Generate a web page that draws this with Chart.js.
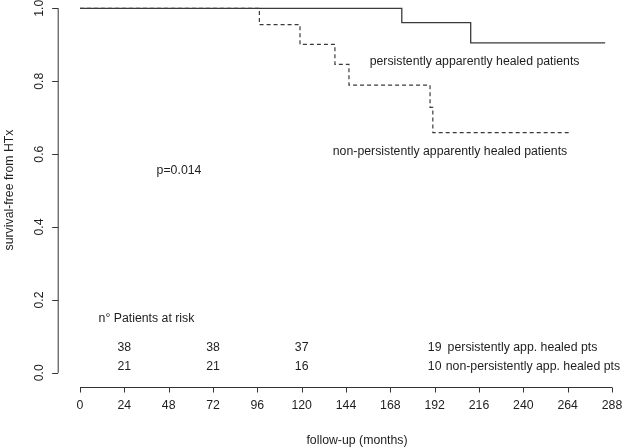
<!DOCTYPE html>
<html>
<head>
<meta charset="utf-8">
<script src="https://cdn.jsdelivr.net/npm/chart.js@4"></script>
<style>
  body { margin: 0; background: #fff; }
</style>
</head>
<body>
<canvas id="kmChart" width="622" height="448"></canvas>
<script>
// Kaplan-Meier curves
const persistentTimes = [0, 174.2, 211.5, 284.3];
const persistentSurv = [1, 0.9605, 0.905, 0.905];
const nonPersistentTimes = [0, 97.1, 119.1, 138, 145.6, 189.5, 191, 265.7];
const nonPersistentSurv = [1, 0.955, 0.901, 0.846, 0.789, 0.728, 0.659, 0.659];

// patients at risk
const atRiskTimes = [24, 72, 120, 192];
const atRiskPersistent = [38, 38, 37, 19];
const atRiskNonPersistent = [21, 21, 16, 10];

const xTicks = [0, 24, 48, 72, 96, 120, 144, 168, 192, 216, 240, 264, 288];
const yTicks = [0, 0.2, 0.4, 0.6, 0.8, 1];

const FONT = '12.3px "Liberation Sans", Arial, sans-serif';
const INK = '#1e1e1e';

function toPoints(xs, ys) {
  return xs.map((x, i) => ({ x: x, y: ys[i] }));
}

const rAxes = {
  id: 'rAxes',
  afterDraw(chart) {
    const ctx = chart.ctx;
    const xs = chart.scales.x, ys = chart.scales.y;
    const left = chart.chartArea.left - 0.5;
    const bottom = chart.chartArea.bottom;
    ctx.save();
    ctx.strokeStyle = '#333';
    ctx.lineWidth = 1;
    ctx.fillStyle = INK;
    ctx.font = FONT;

    // y axis
    ctx.beginPath();
    ctx.moveTo(left, ys.getPixelForValue(yTicks[0]));
    ctx.lineTo(left, ys.getPixelForValue(yTicks[yTicks.length - 1]));
    yTicks.forEach(t => {
      const py = Math.round(ys.getPixelForValue(t)) + 0.5;
      ctx.moveTo(left, py);
      ctx.lineTo(left - 6, py);
    });
    ctx.stroke();
    yTicks.forEach(t => {
      const py = ys.getPixelForValue(t);
      ctx.save();
      ctx.translate(40, py);
      ctx.rotate(-Math.PI / 2);
      ctx.textAlign = 'center';
      ctx.textBaseline = 'middle';
      ctx.fillText(t.toFixed(1), 0, 0);
      ctx.restore();
    });

    // x axis
    const ay = Math.round(bottom) + 0.5;
    ctx.beginPath();
    ctx.moveTo(xs.getPixelForValue(xTicks[0]), ay);
    ctx.lineTo(xs.getPixelForValue(xTicks[xTicks.length - 1]), ay);
    xTicks.forEach(t => {
      const px = Math.round(xs.getPixelForValue(t)) + 0.5;
      ctx.moveTo(px, ay);
      ctx.lineTo(px, ay + 5);
    });
    ctx.stroke();
    ctx.textAlign = 'center';
    ctx.textBaseline = 'middle';
    xTicks.forEach(t => {
      ctx.fillText(String(t), xs.getPixelForValue(t), 406);
    });

    // axis titles
    ctx.fillText('follow-up (months)', 357, 441);
    ctx.save();
    ctx.translate(10, 190);
    ctx.rotate(-Math.PI / 2);
    ctx.fillText('survival-free from HTx', 0, 0);
    ctx.restore();

    // annotations
    const X = v => xs.getPixelForValue(v);
    const Y = v => ys.getPixelForValue(v);
    ctx.fillText('persistently apparently healed patients', X(213.6), Y(0.855));
    ctx.fillText('non-persistently apparently healed patients', X(200.3), Y(0.606));
    ctx.fillText('p=0.014', X(53.6), Y(0.554));
    ctx.fillText('n\u00b0 Patients at risk', X(36), Y(0.148));
    atRiskTimes.forEach((t, i) => {
      ctx.fillText(String(atRiskPersistent[i]), X(t), Y(0.068));
      ctx.fillText(String(atRiskNonPersistent[i]), X(t), Y(0.017));
    });
    ctx.textAlign = 'left';
    ctx.fillText('persistently app. healed pts', X(199), Y(0.068));
    ctx.fillText('non-persistently app. healed pts', X(198), Y(0.017));
    ctx.restore();
  }
};

new Chart(document.getElementById('kmChart'), {
  type: 'line',
  data: {
    datasets: [
      {
        label: 'persistently apparently healed patients',
        data: toPoints(persistentTimes, persistentSurv),
        stepped: true,
        borderColor: '#3a3a3a',
        borderWidth: 1.3,
        pointRadius: 0,
        fill: false
      },
      {
        label: 'non-persistently apparently healed patients',
        data: toPoints(nonPersistentTimes, nonPersistentSurv),
        stepped: true,
        borderColor: '#3a3a3a',
        borderWidth: 1.2,
        borderDash: [4, 3],
        pointRadius: 0,
        fill: false
      }
    ]
  },
  options: {
    responsive: false,
    animation: false,
    layout: {
      padding: { left: 58.7, right: 0, top: 0, bottom: 60.6 }
    },
    plugins: {
      legend: { display: false },
      tooltip: { enabled: false }
    },
    scales: {
      x: { type: 'linear', min: -11.52, max: 293.4, display: false },
      y: { min: -0.04, max: 1.0228, display: false }
    }
  },
  plugins: [rAxes]
});
</script>
</body>
</html>
